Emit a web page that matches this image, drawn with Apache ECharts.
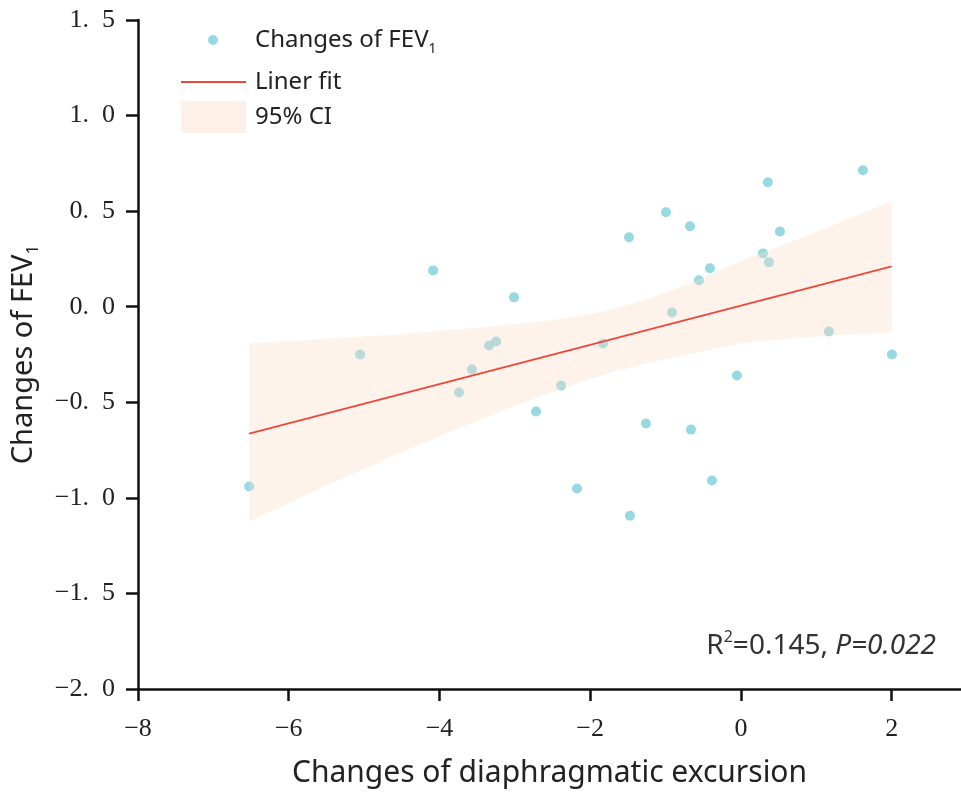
<!DOCTYPE html>
<html>
<head>
<meta charset="utf-8">
<script src="https://cdn.jsdelivr.net/npm/echarts@6/dist/echarts.min.js"></script>
<style>
html, body { margin: 0; padding: 0; background: #fff; }
#main { width: 961px; height: 796px; }
</style>
</head>
<body>
<div id="main"></div>
<script>
// 散点数据（横轴：膈肌移动度变化，纵轴：FEV1 变化）
var pointX = [-6.525, -5.053, -4.085, -3.74, -3.568, -3.342, -3.249, -3.011, -2.719, -2.387,
              -2.175, -1.830, -1.485, -1.472, -1.260, -0.995, -0.915, -0.676, -0.663, -0.557,
              -0.411, -0.385, -0.053, 0.292, 0.358, 0.371, 0.517, 1.167, 1.618, 2.003];
var pointY = [-0.941, -0.25, 0.19, -0.449, -0.328, -0.203, -0.182, 0.049, -0.548, -0.412,
              -0.951, -0.192, 0.363, -1.093, -0.611, 0.494, -0.030, 0.421, -0.643, 0.138,
              0.201, -0.909, -0.36, 0.279, 0.651, 0.232, 0.394, -0.13, 0.714, -0.25];

// 拟合线
var fitX = [-6.525, 2.0];
var fitY = [-0.664, 0.211];

// 95% 置信区间
var bandX     = [-6.525, -5.5, -4.39, -3.2, -2.6, -2.135, -1.74, -1.2, -0.849, -0.544, 0.027, 0.78, 1.14, 2.0];
var bandUpper = [-0.192, -0.168, -0.140, -0.100, -0.075, -0.050, -0.018, 0.045, 0.096, 0.146, 0.245, 0.358, 0.413, 0.552];
var bandLower = [-1.125, -0.935, -0.742, -0.548, -0.460, -0.395, -0.345, -0.292, -0.262, -0.236, -0.190, -0.163, -0.152, -0.135];

// 坐标轴刻度
var xTicks = [-8, -6, -4, -2, 0, 2];

var txt = '#222';
var sans = 'Noto Sans';
var serif = 'Liberation Serif';

var myChart = echarts.init(document.getElementById('main'));

var option = {
    backgroundColor: '#fff',
    animation: false,
    grid: { left: 138, right: 0, top: 20, bottom: 107, containLabel: false },
    title: {
        text: '{n|R}{p|2}{n|=0.145, }{i|P=0.022}',
        right: 20,
        top: 624,
        textStyle: {
            fontWeight: 'normal',
            rich: {
                n: { fontFamily: sans, fontSize: 28, fontWeight: 'normal', color: '#333', lineHeight: 34 },
                p: { fontFamily: sans, fontSize: 16, fontWeight: 'normal', color: '#333', lineHeight: 16, verticalAlign: 'top' },
                i: { fontFamily: sans, fontSize: 28, fontWeight: 'normal', color: '#333', fontStyle: 'italic', lineHeight: 34 }
            }
        }
    },
    legend: [
        {
            data: [{ name: 'Changes of FEV1', icon: 'circle' }],
            left: 203, top: 23,
            itemWidth: 10, itemHeight: 10,
            selectedMode: false,
            formatter: function () { return '{g|}{a|Changes of FEV}{s|1}'; },
            textStyle: {
                rich: {
                    g: { width: 32 },
                    a: { fontFamily: sans, fontSize: 24, color: txt, lineHeight: 32 },
                    s: { fontFamily: sans, fontSize: 14, color: txt, lineHeight: 14, verticalAlign: 'bottom' }
                }
            }
        },
        {
            data: [{ name: 'Liner fit', icon: 'rect' }],
            left: 176, top: 65,
            itemWidth: 65, itemHeight: 2,
            selectedMode: false,
            textStyle: { fontFamily: sans, fontSize: 24, color: txt, padding: [0, 0, 0, 4] }
        },
        {
            data: [{ name: '95% CI', icon: 'rect', itemStyle: { color: '#fdf0e6', opacity: 1 } }],
            left: 176, top: 96,
            itemWidth: 65, itemHeight: 32,
            selectedMode: false,
            textStyle: { fontFamily: sans, fontSize: 24, color: txt, padding: [0, 0, 0, 4] }
        }
    ],
    xAxis: {
        type: 'value',
        min: -8, max: 2.92, interval: 2,
        name: 'Changes of diaphragmatic excursion',
        nameLocation: 'middle',
        nameGap: 69,
        nameTextStyle: { fontFamily: sans, fontSize: 30, color: txt },
        axisLine: { onZero: false, lineStyle: { color: '#111', width: 2.5 } },
        axisTick: { show: true, length: 12, customValues: xTicks, lineStyle: { color: '#111', width: 2.5 } },
        axisLabel: {
            customValues: xTicks,
            margin: 27,
            fontFamily: serif, fontSize: 26, color: txt,
            formatter: function (v) { return (v < 0 ? '\u2212' : '') + Math.abs(v); }
        },
        splitLine: { show: false }
    },
    yAxis: {
        type: 'value',
        min: -2, max: 1.5, interval: 0.5,
        name: '{a|Changes of FEV}{s|1}',
        nameLocation: 'middle',
        nameGap: 96,
        nameTextStyle: {
            rich: {
                a: { fontFamily: sans, fontSize: 29, color: txt, lineHeight: 36 },
                s: { fontFamily: sans, fontSize: 17, color: txt, lineHeight: 17, verticalAlign: 'bottom' }
            }
        },
        axisLine: { onZero: false, lineStyle: { color: '#111', width: 2.5 } },
        axisTick: { show: true, length: 12, lineStyle: { color: '#111', width: 2.5 } },
        axisLabel: {
            margin: 23,
            fontFamily: serif, fontSize: 26, color: txt,
            formatter: function (v) {
                return (v < 0 ? '\u2212' : '') + Math.abs(v).toFixed(1).replace('.', '.\u2002');
            }
        },
        splitLine: { show: false }
    },
    series: [
        {
            name: 'Changes of FEV1',
            type: 'scatter',
            symbol: 'circle',
            symbolSize: 10,
            z: 2,
            itemStyle: { color: '#7ccfdc' },
            data: pointX.map(function (x, i) { return [x, pointY[i]]; })
        },
        {
            name: '95% CI',
            type: 'custom',
            z: 3,
            itemStyle: { color: '#fdf0e6' },
            renderItem: function (params, api) {
                if (params.dataIndex !== 0) return;
                var pts = [];
                for (var i = 0; i < bandX.length; i++) {
                    pts.push(api.coord([bandX[i], bandUpper[i]]));
                }
                for (var j = bandX.length - 1; j >= 0; j--) {
                    pts.push(api.coord([bandX[j], bandLower[j]]));
                }
                return {
                    type: 'polygon',
                    shape: { points: pts },
                    style: { fill: 'rgb(249,221,195)', opacity: 0.35 }
                };
            },
            encode: { x: 0, y: [1, 2] },
            data: bandX.map(function (x, i) { return [x, bandUpper[i], bandLower[i]]; })
        },
        {
            name: 'Liner fit',
            type: 'line',
            symbol: 'none',
            z: 4,
            lineStyle: { color: '#f0463a', width: 1.6 },
            itemStyle: { color: '#f0463a' },
            data: fitX.map(function (x, i) { return [x, fitY[i]]; })
        }
    ]
};

myChart.setOption(option);
</script>
</body>
</html>
